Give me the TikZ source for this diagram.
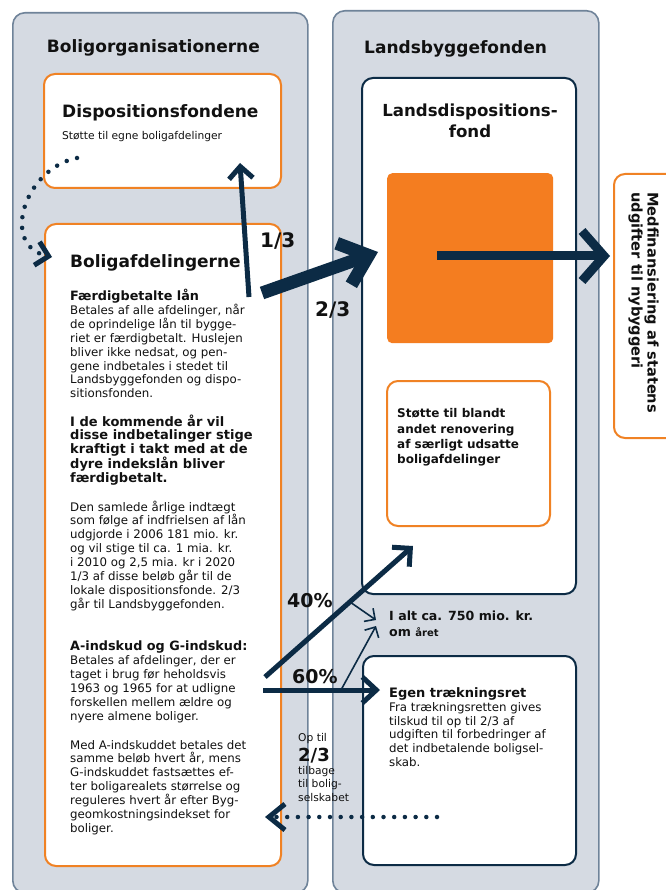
\documentclass[tikz,border=0pt]{standalone}
\usepackage{fontspec}
\setmainfont{DejaVu Sans}
\usetikzlibrary{arrows.meta}
\definecolor{panelfill}{HTML}{D5DAE2}
\definecolor{panelline}{HTML}{6F8399}
\definecolor{navy}{HTML}{0C2B45}
\definecolor{orangeline}{HTML}{F08224}
\definecolor{orangefill}{HTML}{F47D20}
\definecolor{ink}{HTML}{111111}
\begin{document}
\begin{tikzpicture}[x=1pt,y=-1pt,
  panel/.style={draw=panelline, fill=panelfill, line width=1.6pt, rounded corners=12pt, anchor=north west, inner sep=0pt},
  obox/.style={draw=orangeline, fill=white, line width=2pt, rounded corners=11pt, anchor=north west, inner sep=0pt},
  nbox/.style={draw=navy, fill=white, line width=2pt, rounded corners=11pt, anchor=north west, inner sep=0pt},
  txt/.style={anchor=base west, inner sep=0pt, align=left, text=ink},
  title/.style={txt, font=\bfseries\fontsize{17}{20}\selectfont},
  body/.style={txt, font=\fontsize{11.8}{13.9}\selectfont},
  boldbody/.style={txt, font=\bfseries\fontsize{13}{13.75}\selectfont},
  frac/.style={txt, font=\bfseries\fontsize{20}{22}\selectfont},
  pct/.style={txt, font=\bfseries\fontsize{19}{22}\selectfont},
  flow/.style={draw=navy, line width=#1},
  dots/.style={draw=navy, line width=4.5pt, line cap=round, dash pattern=on 0pt off 10.7pt}
]
\useasboundingbox (0,0) rectangle (665,890);
% panels
\node[panel, minimum width=295pt, minimum height=880pt] (leftpanel) at (12,12) {};
\node[panel, minimum width=266pt, minimum height=882pt] (rightpanel) at (332,10) {};
% boxes
\node[obox, minimum width=237pt, minimum height=114pt] (disp) at (43,73) {};
\node[obox, minimum width=236pt, minimum height=642pt] (bolig) at (44,223) {};
\node[nbox, minimum width=214pt, minimum height=516pt] (lands) at (361,77) {};
\node[anchor=north west, inner sep=0pt, fill=orangefill, rounded corners=5pt, minimum width=166pt, minimum height=170pt] (square) at (387,173) {};
\node[obox, minimum width=163pt, minimum height=145pt] (stotte) at (386,380) {};
\node[nbox, minimum width=213pt, minimum height=209pt] (egen) at (362,655) {};
\node[obox, minimum width=80pt, minimum height=264pt] (medfin) at (613,173) {};

% titles
\node[title] (t1) at (46.7,52.7) {Boligorganisationerne};
\node[title] (t2) at (364,53.3) {Landsbyggefonden};
\node[title] (t3) at (62,117.3) {Dispositionsfondene};
\node[txt, font=\fontsize{10.7}{13}\selectfont] (t3b) at (62,140) {Støtte til egne boligafdelinger};
\node[title] (t4) at (70,267.3) {Boligafdelingerne};
\node[txt, anchor=base, align=center, font=\bfseries\fontsize{16.6}{20.7}\selectfont] (t5) at (470,137.4) {Landsdispositions-\\fond};

% left body (anchor = baseline of last line)
\node[body] (p1) at (70,397.8) {{\bfseries\fontsize{12.8}{13.9}\selectfont Færdigbetalte lån}\\
Betales af alle afdelinger, når\\
de oprindelige lån til bygge-\\
riet er færdigbetalt. Huslejen\\
bliver ikke nedsat, og pen-\\
gene indbetales i stedet til\\
Landsbyggefonden og dispo-\\
sitionsfonden.};
\node[boldbody] (p2) at (70,482.7) {I de kommende år vil\\
disse indbetalinger stige\\
kraftigt i takt med at de\\
dyre indekslån bliver\\
færdigbetalt.};
\node[body] (p3) at (70,608.3) {Den samlede årlige indtægt\\
som følge af indfrielsen af lån\\
udgjorde i 2006 181 mio. kr.\\
og vil stige til ca. 1 mia. kr.\\
i 2010 og 2,5 mia. kr i 2020\\
1/3 af disse beløb går til de\\
lokale dispositionsfonde. 2/3\\
går til Landsbyggefonden.};
\node[body] (p4) at (70,720.2) {{\bfseries\fontsize{12.8}{13.9}\selectfont A-indskud og G-indskud:}\\
Betales af afdelinger, der er\\
taget i brug før heholdsvis\\
1963 og 1965 for at udligne\\
forskellen mellem ældre og\\
nyere almene boliger.};
\node[body] (p5) at (70,832.4) {Med A-indskuddet betales det\\
samme beløb hvert år, mens\\
G-indskuddet fastsættes ef-\\
ter boligarealets størrelse og\\
reguleres hvert år efter Byg-\\
geomkostningsindekset for\\
boliger.};

% right texts
\node[txt, font=\bfseries\fontsize{12}{15.4}\selectfont] (s1) at (397,463.9) {Støtte til blandt\\
andet renovering\\
af særligt udsatte\\
boligafdelinger};
\node[txt, font=\bfseries\fontsize{12.6}{16}\selectfont] (ialt) at (389,636.7) {I alt ca. 750 mio. kr.\\
om {\fontsize{10}{16}\selectfont året}};
\node[body] (e1) at (389,766.7) {{\bfseries\fontsize{13}{14}\selectfont Egen trækningsret}\\
Fra trækningsretten gives\\
tilskud til op til 2/3 af\\
udgiften til forbedringer af\\
det indbetalende boligsel-\\
skab.};
\node[txt, rotate=-90, anchor=north west, font=\bfseries\fontsize{14.6}{16}\selectfont] (m1) at (659,192) {Medfinansiering af statens\\
udgifter til nybyggeri};

% op til
\node[txt, font=\fontsize{10.7}{13.8}\selectfont] (op1) at (298,741.7) {Op til};
\node[txt, font=\bfseries\fontsize{18}{20}\selectfont] (op2) at (298,761.7) {2/3};
\node[txt, font=\fontsize{10.7}{13.8}\selectfont] (op3) at (298,801.6) {tilbage\\til bolig-\\selskabet};

% labels
\node[frac] (l13) at (260,247.3) {1/3};
\node[frac] (l23) at (315,316.7) {2/3};
\node[pct] (l40) at (287,607) {40\%};
\node[pct] (l60) at (292,683) {60\%};

% arrows
\coordinate (a13s) at (249,297);
\coordinate (a13e) at (240,163);
\draw[flow=5pt, -{Straight Barb[length=12pt,width=24pt]}] (a13s) -- (a13e);
\coordinate (a23s) at (262,293);
\coordinate (a23e) at (378,252);
\draw[flow=13pt, -{Straight Barb[length=26pt,width=44pt]}] (a23s) -- (a23e);
\coordinate (ars) at (437,256);
\coordinate (are) at (610,256);
\draw[flow=9pt, -{Straight Barb[length=22pt,width=50pt]}] (ars) -- (are);
\coordinate (a40s) at (265,677);
\coordinate (a40e) at (413,546);
\draw[flow=5pt, -{Straight Barb[length=13pt,width=26pt]}] (a40s) -- (a40e);
\coordinate (a60s) at (263,690);
\coordinate (a60e) at (380,690);
\draw[flow=5pt, -{Straight Barb[length=14pt,width=26pt]}] (a60s) -- (a60e);
\coordinate (th1s) at (350,602);
\coordinate (th1e) at (376,620);
\draw[flow=1.6pt, -{Straight Barb[length=8pt,width=16pt]}] (th1s) -- (th1e);
\coordinate (th2s) at (341,690);
\coordinate (th2e) at (376,626);
\draw[flow=1.6pt, -{Straight Barb[length=8pt,width=16pt]}] (th2s) -- (th2e);
% dotted
\coordinate (dbs) at (437,817);
\coordinate (dbe) at (265,817);
\draw[dots, -{Straight Barb[length=16pt,width=26pt,line width=5pt]}] (dbs) -- (dbe);
\coordinate (dts) at (77,158);
\coordinate (dte) at (52,257);
\draw[dots, -{Straight Barb[length=12pt,width=24pt,line width=5pt]}] (dts) .. controls (25,168) and (0,245) .. (dte);
\end{tikzpicture}
\end{document}
